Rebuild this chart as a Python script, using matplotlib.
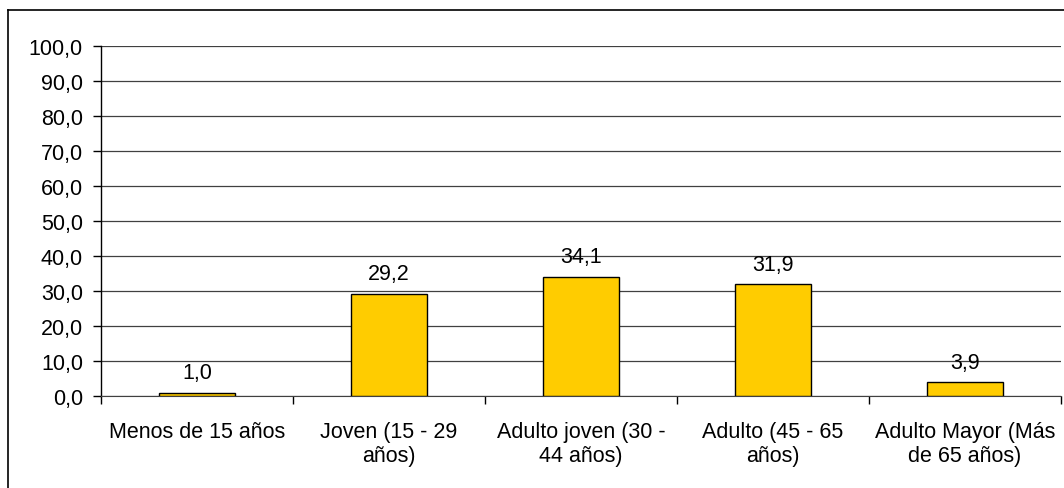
import matplotlib

matplotlib.use("Agg")

import matplotlib.pyplot as plt
from matplotlib.lines import Line2D

categories = [
    "Menos de 15 años",
    "Joven (15 - 29\naños)",
    "Adulto joven (30 -\n44 años)",
    "Adulto (45 - 65\naños)",
    "Adulto Mayor (Más\nde 65 años)",
]
values = [1.0, 29.2, 34.1, 31.9, 3.9]
y_ticks = [0, 10, 20, 30, 40, 50, 60, 70, 80, 90, 100]

plt.rcParams["font.family"] = ["Liberation Sans", "DejaVu Sans"]
plt.rcParams["font.size"] = 15.5

fig = plt.figure(figsize=(10.64, 4.89), dpi=100)
ax = fig.add_axes([101 / 1064, 92 / 489, 960 / 1064, 350 / 489])

x = list(range(len(categories)))
ax.bar(x, values, width=0.4, color="#FFCC00", edgecolor="black", linewidth=1.0, zorder=3)
for xi, v in zip(x, values):
    ax.annotate(f"{v:.1f}".replace(".", ","), (xi, v), xytext=(0, 7),
                textcoords="offset points", ha="center", va="bottom")

ax.set_xlim(-0.5, len(categories) - 0.5)
ax.set_ylim(0, 100)
ax.set_yticks(y_ticks)
ax.set_yticklabels([f"{t:.1f}".replace(".", ",") for t in y_ticks])
ax.set_xticks([i - 0.5 for i in range(len(categories) + 1)])
ax.set_xticklabels([])
ax.set_xticks(x, minor=True)
ax.set_xticklabels(categories, minor=True, linespacing=1.2)
ax.tick_params(axis="x", which="minor", length=0, pad=18)
ax.tick_params(axis="x", which="major", length=6, width=1.0, direction="out")
ax.tick_params(axis="y", length=6, width=1.0, direction="out", pad=7)

ax.grid(True, axis="y", color="#404040", linewidth=0.9, zorder=0)
for side in ["top", "right"]:
    ax.spines[side].set_visible(False)
ax.spines["left"].set_linewidth(1.0)
ax.spines["bottom"].set_color("#404040")

# outer chart frame (clipped on right and bottom)
fig.add_artist(Line2D([8 / 1064, 8 / 1064], [0, 1 - 11 / 489], color="black", linewidth=1.2,
                      transform=fig.transFigure))
fig.add_artist(Line2D([8 / 1064, 1], [1 - 11 / 489, 1 - 11 / 489], color="black", linewidth=1.2,
                      transform=fig.transFigure))

fig.savefig("out.png", dpi=100)
plt.close(fig)
